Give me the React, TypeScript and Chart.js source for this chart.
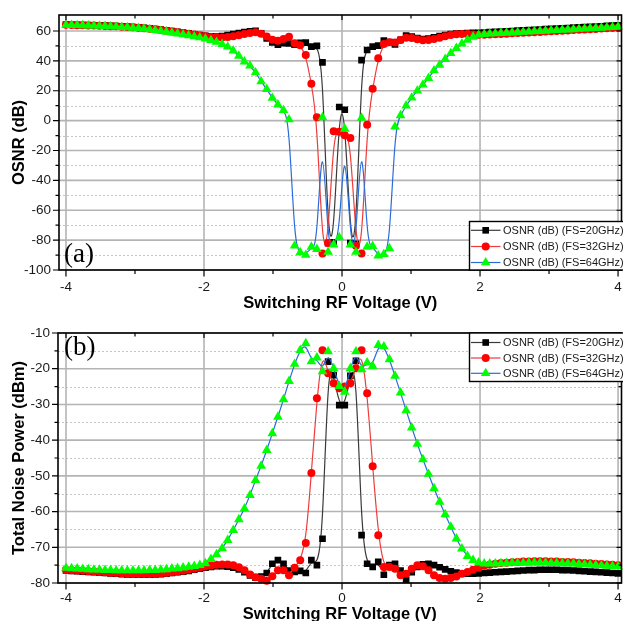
import React, { useEffect, useRef } from 'react';
import { Chart, registerables } from 'chart.js';

Chart.register(...registerables);

// Switching RF voltage sweep (V)
const voltage = [
  -4.000, -3.919, -3.838, -3.758, -3.677, -3.596, -3.515, -3.434, -3.354, -3.273,
  -3.192, -3.111, -3.030, -2.949, -2.869, -2.788, -2.707, -2.626, -2.545, -2.465,
  -2.384, -2.303, -2.222, -2.141, -2.061, -1.980, -1.899, -1.818, -1.737, -1.657,
  -1.576, -1.495, -1.414, -1.333, -1.253, -1.172, -1.091, -1.010, -0.929, -0.848,
  -0.768, -0.687, -0.606, -0.525, -0.444, -0.364, -0.283, -0.202, -0.121, -0.040,
  0.040, 0.121, 0.202, 0.283, 0.364, 0.444, 0.525, 0.606, 0.687, 0.768,
  0.848, 0.929, 1.010, 1.091, 1.172, 1.253, 1.333, 1.414, 1.495, 1.576,
  1.657, 1.737, 1.818, 1.899, 1.980, 2.061, 2.141, 2.222, 2.303, 2.384,
  2.465, 2.545, 2.626, 2.707, 2.788, 2.869, 2.949, 3.030, 3.111, 3.192,
  3.273, 3.354, 3.434, 3.515, 3.596, 3.677, 3.758, 3.838, 3.919, 4.000,
];

// OSNR (dB)
const osnr20 = [
  64.3, 64.2, 64.1, 64.0, 63.9, 63.8, 63.7, 63.6, 63.4, 63.3,
  63.1, 62.9, 62.7, 62.4, 62.1, 61.7, 61.3, 60.9, 60.4, 59.9,
  59.4, 58.9, 58.4, 57.8, 57.3, 56.8, 56.4, 56.3, 56.6, 57.2,
  57.9, 58.6, 59.3, 59.8, 60.1, 58.5, 55.0, 52.3, 50.8, 51.8,
  51.6, 50.8, 52.0, 52.2, 49.5, 50.0, 39.0, -82.0, -81.5, 9.1,
  7.3, -82.0, -82.5, 40.5, 47.3, 49.5, 50.2, 53.5, 52.5, 51.0,
  54.0, 57.0, 56.2, 55.2, 54.6, 55.0, 55.8, 56.6, 57.3, 57.9,
  58.3, 58.5, 58.6, 58.7, 58.8, 59.0, 59.2, 59.4, 59.6, 59.8,
  60.0, 60.2, 60.4, 60.6, 60.8, 61.0, 61.2, 61.4, 61.6, 61.8,
  62.0, 62.2, 62.4, 62.6, 62.8, 63.0, 63.2, 63.4, 63.6, 63.8,
];
const osnr32 = [
  64.1, 64.0, 63.9, 63.8, 63.7, 63.6, 63.5, 63.4, 63.2, 63.1,
  62.9, 62.7, 62.5, 62.2, 61.9, 61.5, 61.1, 60.7, 60.2, 59.7,
  59.2, 58.7, 58.2, 57.6, 57.0, 56.4, 55.9, 55.6, 55.6, 55.9,
  56.4, 57.1, 57.9, 58.7, 59.2, 58.2, 56.3, 54.2, 53.5, 54.7,
  56.2, 51.8, 50.5, 44.0, 24.7, 2.2, -88.9, -82.0, -7.1, -7.5,
  -9.8, -11.6, -83.8, -88.9, -2.7, 21.3, 41.8, 51.3, 52.5, 52.3,
  54.0, 55.5, 55.3, 54.4, 53.8, 53.9, 54.6, 55.5, 56.5, 57.3,
  57.8, 58.0, 57.9, 57.7, 57.5, 57.4, 57.6, 57.8, 58.0, 58.2,
  58.4, 58.6, 58.8, 59.0, 59.2, 59.4, 59.6, 59.8, 60.0, 60.2,
  60.4, 60.6, 60.8, 61.0, 61.2, 61.4, 61.6, 61.8, 62.0, 62.2,
];
const osnr64 = [
  64.0, 63.9, 63.8, 63.7, 63.6, 63.5, 63.3, 63.2, 63.0, 62.8,
  62.6, 62.4, 62.1, 61.8, 61.4, 61.0, 60.5, 60.0, 59.4, 58.8,
  58.2, 57.6, 57.0, 56.3, 55.6, 54.8, 53.8, 52.6, 51.2, 49.4,
  46.8, 43.3, 39.5, 36.7, 32.2, 26.2, 21.1, 15.1, 10.7, 6.9,
  0.7, -83.8, -88.2, -90.0, -84.5, -86.0, 2.2, -88.0, -83.0, -78.2,
  -5.5, -83.0, -88.0, 1.8, -84.5, -84.0, -90.4, -89.5, -85.5, -4.0,
  3.5, 10.0, 15.3, 20.0, 24.0, 28.4, 33.5, 37.3, 41.1, 45.1,
  48.5, 51.5, 54.0, 56.0, 57.3, 57.8, 58.1, 58.3, 58.5, 58.7,
  58.9, 59.1, 59.3, 59.5, 59.7, 59.9, 60.1, 60.3, 60.5, 60.7,
  60.9, 61.1, 61.3, 61.5, 61.7, 61.9, 62.1, 62.3, 62.5, 62.7,
];

// Total noise power (dBm)
const noise20 = [
  -76.5, -76.6, -76.7, -76.8, -76.9, -77.0, -77.1, -77.2, -77.3, -77.4,
  -77.5, -77.6, -77.6, -77.7, -77.7, -77.7, -77.6, -77.5, -77.4, -77.2,
  -77.0, -76.8, -76.6, -76.3, -76.0, -75.7, -75.5, -75.3, -75.3, -75.4,
  -75.7, -76.2, -77.0, -77.9, -78.5, -78.2, -77.2, -74.6, -73.6, -74.6,
  -76.5, -76.9, -76.6, -77.2, -73.6, -75.0, -67.6, -18.0, -21.8, -30.2,
  -30.2, -22.0, -17.8, -66.6, -74.6, -75.5, -74.1, -77.7, -75.0, -74.6,
  -76.5, -79.1, -77.0, -75.5, -74.8, -74.6, -75.0, -75.6, -76.2, -76.7,
  -77.1, -77.3, -77.4, -77.4, -77.3, -77.2, -77.1, -77.0, -76.9, -76.8,
  -76.7, -76.6, -76.5, -76.4, -76.4, -76.3, -76.3, -76.3, -76.3, -76.4,
  -76.4, -76.5, -76.6, -76.7, -76.8, -76.9, -77.0, -77.1, -77.2, -77.3,
];
const noise32 = [
  -76.3, -76.4, -76.5, -76.6, -76.7, -76.8, -76.9, -77.0, -77.1, -77.2,
  -77.3, -77.4, -77.4, -77.5, -77.5, -77.5, -77.4, -77.3, -77.2, -77.0,
  -76.8, -76.6, -76.3, -76.0, -75.7, -75.4, -75.1, -74.9, -74.8, -74.8,
  -75.0, -75.6, -76.4, -77.6, -78.4, -78.8, -79.4, -78.1, -76.4, -76.4,
  -77.8, -75.7, -73.6, -68.8, -49.2, -28.3, -14.8, -21.3, -24.1, -25.5,
  -25.0, -24.1, -19.9, -14.8, -26.9, -47.3, -66.6, -75.5, -75.5, -76.0,
  -77.8, -77.4, -76.0, -75.0, -75.3, -76.4, -77.8, -78.6, -78.8, -78.6,
  -78.2, -77.4, -76.9, -76.3, -75.7, -75.2, -74.9, -74.6, -74.4, -74.3,
  -74.2, -74.1, -74.0, -74.0, -73.9, -73.9, -73.9, -74.0, -74.0, -74.1,
  -74.1, -74.2, -74.3, -74.4, -74.5, -74.6, -74.7, -74.8, -74.9, -75.0,
];
const noise64 = [
  -75.8, -75.9, -76.0, -76.1, -76.2, -76.3, -76.3, -76.4, -76.4, -76.5,
  -76.5, -76.5, -76.5, -76.5, -76.5, -76.4, -76.4, -76.3, -76.2, -76.0,
  -75.9, -75.7, -75.5, -75.3, -75.0, -74.5, -73.3, -72.0, -70.3, -68.0,
  -65.2, -62.2, -59.2, -55.4, -51.2, -47.2, -42.8, -38.1, -33.5, -28.6,
  -23.5, -18.7, -14.8, -12.9, -18.0, -16.9, -20.8, -15.2, -19.9, -24.9,
  -26.5, -19.9, -15.2, -20.2, -18.3, -19.3, -13.4, -13.8, -17.4, -22.0,
  -26.7, -31.7, -36.5, -41.1, -45.4, -49.5, -53.5, -57.3, -60.8, -64.3,
  -67.6, -70.4, -72.5, -73.6, -74.3, -74.6, -74.6, -74.6, -74.5, -74.5,
  -74.4, -74.4, -74.4, -74.3, -74.3, -74.3, -74.3, -74.4, -74.4, -74.5,
  -74.5, -74.6, -74.7, -74.8, -74.9, -75.0, -75.1, -75.2, -75.3, -75.4,
];

const seriesLabels = ['OSNR (dB) (FS=20GHz)', 'OSNR (dB) (FS=32GHz)', 'OSNR (dB) (FS=64GHz)'];
const xTicks = [-4, -3, -2, -1, 0, 1, 2, 3, 4];
const osnrTicks = [-100, -90, -80, -70, -60, -50, -40, -30, -20, -10, 0, 10, 20, 30, 40, 50, 60];
const noiseTicks = [-80, -75, -70, -65, -60, -55, -50, -45, -40, -35, -30, -25, -20, -15, -10];

const SANS = '"Liberation Sans", Arial, Helvetica, sans-serif';
const SERIF = '"Liberation Serif", "Times New Roman", serif';

type Shape = 'rect' | 'circle' | 'triangle';
const seriesStyles: { marker: string; line: string; shape: Shape; radius: number }[] = [
  { marker: '#000000', line: '#3a3a3a', shape: 'rect', radius: 4.7 },
  { marker: '#ff0000', line: '#ee3b3b', shape: 'circle', radius: 4.0 },
  { marker: '#00ff00', line: '#2b6bd9', shape: 'triangle', radius: 5.6 },
];

type PanelSpec = {
  series: number[][];
  yMin: number;
  yMax: number;
  xMin: number;
  xMax: number;
  yTicks: number[];
  yLabelStep: number;
  yTitle: string;
  tag: string;
  tagBaseline: number;
  legendTop: number;
  legendBottom: number;
  legendRows: number[];
  padding: { top: number; right: number; bottom: number; left: number };
  yAxisWidth: number;
  xAxisHeight: number;
  xTickPad: number;
  xTitlePadBottom: number;
};

type Pt = { x: number; y: number };

// Uniform cubic B-spline through the marker positions, clamped at both ends
function strokeBSpline(ctx: CanvasRenderingContext2D, pts: Pt[]) {
  if (pts.length < 2) return;
  const first = pts[0];
  const last = pts[pts.length - 1];
  const q = [first, first, ...pts, last, last];
  ctx.beginPath();
  for (let i = 0; i + 3 < q.length; i++) {
    const p0 = q[i], p1 = q[i + 1], p2 = q[i + 2], p3 = q[i + 3];
    const b0x = (p0.x + 4 * p1.x + p2.x) / 6;
    const b0y = (p0.y + 4 * p1.y + p2.y) / 6;
    const b1x = (2 * p1.x + p2.x) / 3;
    const b1y = (2 * p1.y + p2.y) / 3;
    const b2x = (p1.x + 2 * p2.x) / 3;
    const b2y = (p1.y + 2 * p2.y) / 3;
    const b3x = (p1.x + 4 * p2.x + p3.x) / 6;
    const b3y = (p1.y + 4 * p2.y + p3.y) / 6;
    if (i === 0) ctx.moveTo(b0x, b0y);
    ctx.bezierCurveTo(b1x, b1y, b2x, b2y, b3x, b3y);
  }
  ctx.stroke();
}

function drawMarker(ctx: CanvasRenderingContext2D, shape: Shape, x: number, y: number, r: number, color: string) {
  ctx.fillStyle = color;
  ctx.beginPath();
  if (shape === 'rect') {
    const s = r * Math.SQRT1_2;
    ctx.rect(x - s, y - s, 2 * s, 2 * s);
  } else if (shape === 'circle') {
    ctx.arc(x, y, r, 0, Math.PI * 2);
  } else {
    ctx.moveTo(x, y - r);
    ctx.lineTo(x + r * Math.sin((2 * Math.PI) / 3), y + r * 0.5);
    ctx.lineTo(x + r * Math.sin((4 * Math.PI) / 3), y + r * 0.5);
    ctx.closePath();
  }
  ctx.fill();
}

function decorPlugin(spec: PanelSpec) {
  const majorY = (v: number) => v % spec.yLabelStep === 0;
  const majorX = (v: number) => v % 2 === 0;
  return {
    id: 'panelDecor',
    beforeDatasetsDraw(chart: any) {
      const { ctx, chartArea: a } = chart;
      const xs = chart.scales.x;
      const ys = chart.scales.y;
      ctx.save();
      ctx.lineWidth = 1;
      ctx.strokeStyle = '#c6c6c6';
      ctx.setLineDash([2, 2]);
      for (const v of spec.yTicks) {
        if (majorY(v)) continue;
        const py = Math.round(ys.getPixelForValue(v)) + 0.5;
        ctx.beginPath();
        ctx.moveTo(a.left, py);
        ctx.lineTo(a.right, py);
        ctx.stroke();
      }
      ctx.setLineDash([]);
      ctx.lineWidth = 1.6;
      ctx.strokeStyle = '#b4b4b4';
      for (const v of spec.yTicks) {
        if (!majorY(v)) continue;
        const py = ys.getPixelForValue(v);
        ctx.beginPath();
        ctx.moveTo(a.left, py);
        ctx.lineTo(a.right, py);
        ctx.stroke();
      }
      for (const v of xTicks) {
        if (!majorX(v)) continue;
        const px = xs.getPixelForValue(v);
        ctx.beginPath();
        ctx.moveTo(px, a.top);
        ctx.lineTo(px, a.bottom);
        ctx.stroke();
      }
      ctx.restore();
    },
    beforeDatasetDraw(chart: any, args: any) {
      const { ctx, chartArea: a } = chart;
      const ds = chart.data.datasets[args.index];
      const pts: Pt[] = args.meta.data.map((el: any) => ({ x: el.x, y: el.y }));
      ctx.save();
      ctx.beginPath();
      ctx.rect(a.left, a.top, a.right - a.left, a.bottom - a.top);
      ctx.clip();
      ctx.strokeStyle = ds.curveColor;
      ctx.lineWidth = 1.2;
      ctx.lineJoin = 'round';
      strokeBSpline(ctx, pts);
      ctx.restore();
    },
    afterDatasetsDraw(chart: any) {
      const { ctx, chartArea: a } = chart;
      const xs = chart.scales.x;
      const ys = chart.scales.y;
      ctx.save();
      // plot frame
      ctx.strokeStyle = '#000';
      ctx.lineWidth = 1.6;
      ctx.strokeRect(a.left, a.top, a.right - a.left, a.bottom - a.top);
      // tick marks: outward on left/bottom, inward on top/right
      ctx.lineWidth = 1.2;
      ctx.beginPath();
      for (const v of spec.yTicks) {
        const py = ys.getPixelForValue(v);
        const out = majorY(v) ? 6 : 3.5;
        const inn = majorY(v) ? 5 : 3;
        ctx.moveTo(a.left - out, py);
        ctx.lineTo(a.left, py);
        ctx.moveTo(a.right, py);
        ctx.lineTo(a.right - inn, py);
      }
      for (const v of xTicks) {
        const px = xs.getPixelForValue(v);
        const out = majorX(v) ? 6.5 : 4;
        const inn = majorX(v) ? 5 : 3.5;
        ctx.moveTo(px, a.bottom);
        ctx.lineTo(px, a.bottom + out);
        ctx.moveTo(px, a.top);
        ctx.lineTo(px, a.top + inn);
      }
      ctx.stroke();
      // legend
      const lx = 469.5;
      ctx.fillStyle = '#fff';
      ctx.fillRect(lx, spec.legendTop, 220, spec.legendBottom - spec.legendTop);
      ctx.lineWidth = 1.4;
      ctx.strokeStyle = '#000';
      ctx.strokeRect(lx, spec.legendTop, 220, spec.legendBottom - spec.legendTop);
      ctx.font = `11px ${SANS}`;
      ctx.textBaseline = 'middle';
      ctx.textAlign = 'left';
      spec.legendRows.forEach((ry, k) => {
        const st = seriesStyles[k];
        ctx.strokeStyle = st.line;
        ctx.lineWidth = 1.2;
        ctx.beginPath();
        ctx.moveTo(lx + 1.5, ry);
        ctx.lineTo(lx + 31, ry);
        ctx.stroke();
        drawMarker(ctx, st.shape, lx + 16.2, ry, st.radius, st.marker);
        ctx.fillStyle = '#1a1a1a';
        ctx.fillText(seriesLabels[k], lx + 33.5, ry + 0.5);
      });
      // panel tag
      ctx.fillStyle = '#000';
      ctx.font = `27px ${SERIF}`;
      ctx.textBaseline = 'alphabetic';
      ctx.fillText(spec.tag, 64, spec.tagBaseline);
      ctx.restore();
    },
  };
}

function createPanel(canvas: HTMLCanvasElement, spec: PanelSpec) {
  const datasets = spec.series.map((vals, k) => ({
    label: seriesLabels[k],
    data: voltage.map((v, i) => ({ x: v, y: vals[i] })),
    showLine: false,
    pointStyle: seriesStyles[k].shape,
    pointRadius: seriesStyles[k].radius,
    pointHoverRadius: seriesStyles[k].radius,
    pointBackgroundColor: seriesStyles[k].marker,
    pointBorderColor: seriesStyles[k].marker,
    pointBorderWidth: 0,
    order: 2 - k,
    clip: 8,
    curveColor: seriesStyles[k].line,
  }));
  const tickFont = { family: SANS, size: 13.5 };
  const titleFont = { family: SANS, size: 16.5, weight: 'bold' as const };
  return new Chart(canvas, {
    type: 'scatter',
    data: { datasets: datasets as any },
    plugins: [decorPlugin(spec) as any],
    options: {
      responsive: false,
      animation: false,
      devicePixelRatio: 1,
      events: [],
      layout: { autoPadding: false, padding: spec.padding },
      plugins: { legend: { display: false }, tooltip: { enabled: false } },
      scales: {
        x: {
          type: 'linear',
          position: 'bottom',
          min: spec.xMin,
          max: spec.xMax,
          afterBuildTicks: (s: any) => {
            s.ticks = xTicks.map((v) => ({ value: v }));
          },
          afterFit: (s: any) => {
            s.height = spec.xAxisHeight;
            s.paddingLeft = 0;
            s.paddingRight = 0;
          },
          grid: { display: false, drawTicks: false },
          border: { display: false },
          ticks: {
            autoSkip: false,
            maxRotation: 0,
            minRotation: 0,
            padding: spec.xTickPad,
            color: '#1a1a1a',
            font: tickFont,
            callback: (v: any) => (Number(v) % 2 === 0 ? String(v) : ''),
          },
          title: {
            display: true,
            text: 'Switching RF Voltage (V)',
            color: '#000',
            font: titleFont,
            padding: { top: 0, bottom: spec.xTitlePadBottom },
          },
        },
        y: {
          type: 'linear',
          position: 'left',
          min: spec.yMin,
          max: spec.yMax,
          afterBuildTicks: (s: any) => {
            s.ticks = spec.yTicks.map((v) => ({ value: v }));
          },
          afterFit: (s: any) => {
            s.width = spec.yAxisWidth;
            s.paddingTop = 0;
            s.paddingBottom = 0;
          },
          grid: { display: false, drawTicks: false },
          border: { display: false },
          ticks: {
            autoSkip: false,
            padding: 8,
            color: '#1a1a1a',
            font: tickFont,
            callback: (v: any) => (Number(v) % spec.yLabelStep === 0 ? String(v) : ''),
          },
          title: {
            display: true,
            text: spec.yTitle,
            color: '#000',
            font: titleFont,
            padding: { top: 9.4, bottom: 0 },
          },
        },
      },
    } as any,
  });
}

const osnrPanel: PanelSpec = {
  series: [osnr20, osnr32, osnr64],
  yMin: -100,
  yMax: 70.7,
  xMin: -4.101,
  xMax: 4.05,
  yTicks: osnrTicks,
  yLabelStep: 20,
  yTitle: 'OSNR (dB)',
  tag: '(a)',
  tagBaseline: 262,
  legendTop: 221.5,
  legendBottom: 270,
  legendRows: [230.3, 246.5, 262.5],
  padding: { top: 15, right: 1.5, bottom: 306, left: 0 },
  yAxisWidth: 59,
  xAxisHeight: 45,
  xTickPad: 9.4,
  xTitlePadBottom: 1.6,
};

const noisePanel: PanelSpec = {
  series: [noise20, noise32, noise64],
  yMin: -80,
  yMax: -10,
  xMin: -4.116,
  xMax: 4.05,
  yTicks: noiseTicks,
  yLabelStep: 10,
  yTitle: 'Total Noise Power (dBm)',
  tag: '(b)',
  tagBaseline: 355,
  legendTop: 333,
  legendBottom: 381.5,
  legendRows: [342.5, 358, 373.3],
  padding: { top: 333, right: 1.5, bottom: 0, left: 0 },
  yAxisWidth: 58,
  xAxisHeight: 38,
  xTickPad: 6.9,
  xTitlePadBottom: -2.9,
};

export default function App() {
  const topRef = useRef<HTMLCanvasElement>(null);
  const bottomRef = useRef<HTMLCanvasElement>(null);

  useEffect(() => {
    const charts: Chart[] = [];
    if (topRef.current) charts.push(createPanel(topRef.current, osnrPanel));
    if (bottomRef.current) charts.push(createPanel(bottomRef.current, noisePanel));
    return () => charts.forEach((c) => c.destroy());
  }, []);

  const canvasStyle: React.CSSProperties = { position: 'absolute', left: 0, top: 0 };
  return (
    <div style={{ position: 'absolute', left: 0, top: 0, width: 623, height: 621, background: '#fff', overflow: 'hidden' }}>
      <canvas ref={topRef} width={623} height={621} style={canvasStyle} />
      <canvas ref={bottomRef} width={623} height={621} style={canvasStyle} />
    </div>
  );
}
